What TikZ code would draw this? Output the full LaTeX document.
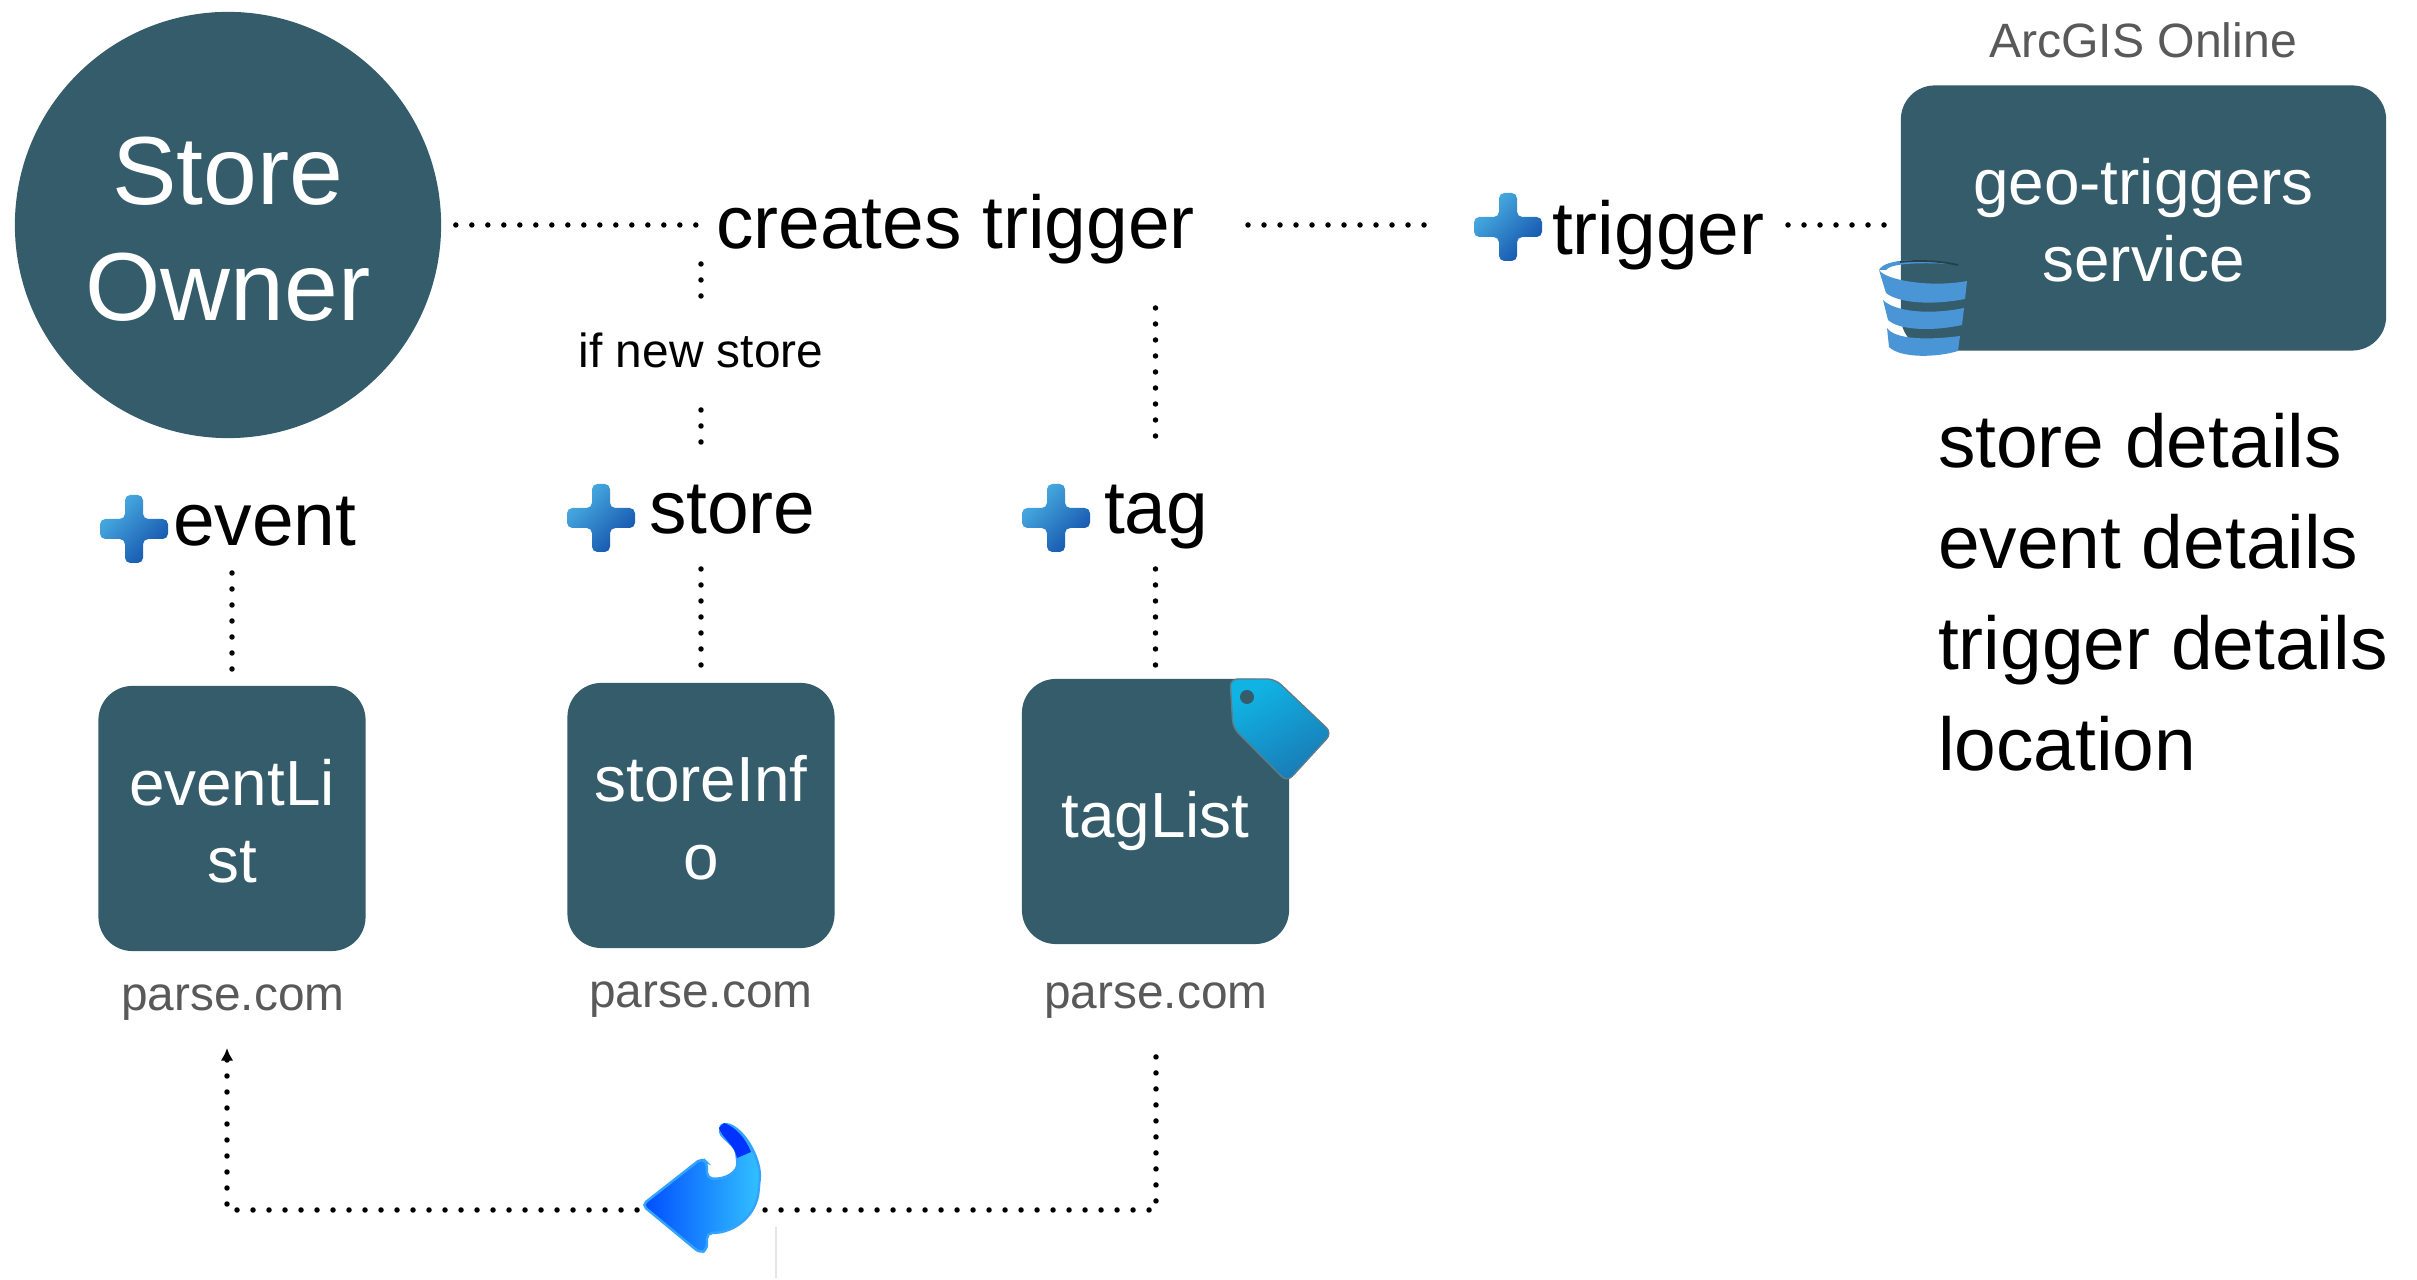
\documentclass[tikz,border=0pt]{standalone}
\usepackage{fontspec}
\setmainfont{Liberation Sans}
\usetikzlibrary{arrows.meta}
\definecolor{boxteal}{HTML}{345C6B}
\definecolor{sitegray}{HTML}{595959}
\definecolor{plustop}{HTML}{4AB0E2}
\definecolor{plusbottom}{HTML}{1452AC}
\definecolor{dbblue}{HTML}{4A95D6}
\definecolor{tagtop}{HTML}{10B4E4}
\definecolor{tagbottom}{HTML}{1A78B4}
\newcommand\labelnode[3]{node[#2] (#1) {#3}}
\tikzset{
    dotlink/.style={line width=1.56pt, line cap=round, dash pattern=on 0pt off 4.55pt},
    basetext/.style={inner sep=0pt, outer sep=0pt, anchor=base, font=\fontsize{21.3}{25}\selectfont},
    basewest/.style={basetext, anchor=base west},
    smalltext/.style={basetext, font=\fontsize{13.6}{17}\selectfont},
    sitetext/.style={basetext, text=sitegray, font=\fontsize{13.6}{16}\selectfont},
    servicebox/.style={fill=boxteal, text=white, rounded corners=.34cm, inner sep=0pt,
        minimum width=2.67cm, minimum height=2.65cm, align=center,
        font=\fontsize{18.15}{21.9}\selectfont},
    plusicon/.pic={
        \shade[top color=plustop, bottom color=plusbottom, shading angle=45,
            rounded corners=1.5pt]
            (-9,-34) -- (9,-34) -- (9,-10) -- (34,-10) -- (34,10) -- (9,10) -- (9,34)
            -- (-9,34) -- (-9,10) -- (-34,10) -- (-34,-10) -- (-9,-10) -- cycle;
    }
}
\begin{document}
\begin{tikzpicture}[x=.01cm, y=-.01cm]
    \useasboundingbox (0,0) rectangle (2417,1280);

    % Store owner circle
    \node[circle, fill=boxteal, text=white, minimum size=4.26cm, inner sep=0pt, align=center,
        font=\fontsize{27.5}{33}\selectfont] (owner) at (228,225) {\rule{0pt}{21.6pt}Store\\Owner};

    % Service boxes
    \node[servicebox, minimum width=4.85cm] (geotriggers) at (2143.5,218) {\rule{0pt}{14.6pt}geo-triggers\\service};
    \node[servicebox] (eventlist) at (232,818.5) {\rule{0pt}{14.8pt}eventLi\\st};
    \node[servicebox] (storeinfo) at (701,815.5) {\rule{0pt}{14.4pt}storeInf\\o};
    \node[servicebox, text height=.64cm, text depth=.13cm] (taglist) at (1155.5,811.5) {tagList};

    % Text labels
    \draw
        (716,249) \labelnode{creates}{basewest}{creates trigger}
        (1552,255) \labelnode{trigger}{basewest}{trigger}
        (173,546) \labelnode{event}{basewest}{event}
        (649,534) \labelnode{store}{basewest}{store}
        (1104,534) \labelnode{tag}{basewest}{tag}
        (701,368) \labelnode{ifnew}{smalltext}{if new store}
        (2143,58) \labelnode{arcgis}{basetext, text=sitegray, font=\fontsize{13.7}{17}\selectfont}{ArcGIS Online}
        (233,1011) \labelnode{eventsite}{sitetext}{parse.com}
        (701,1008) \labelnode{storesite}{sitetext}{parse.com}
        (1156,1009) \labelnode{tagsite}{sitetext}{parse.com}
        (1938,468) \labelnode{storedetails}{basewest}{store details}
        (1938,569) \labelnode{eventdetails}{basewest}{event details}
        (1938,670) \labelnode{triggerdetails}{basewest}{trigger details}
        (1938,771) \labelnode{location}{basewest}{location};

    % Dotted links
    \draw[dotlink, shorten <=.14cm, shorten >=.15cm] (owner.east) -- (owner.east -| creates.west);
    \draw[dotlink] (1248,225) -- (1435,225);
    \draw[dotlink, shorten >=.1cm] (1788,225) -- (geotriggers.west |- 1788,225);
    \draw[dotlink] (ifnew |- 0,264) -- (ifnew |- 0,300);
    \draw[dotlink] (ifnew |- 0,410) -- (ifnew |- 0,447);
    \draw[dotlink] (taglist |- 0,308) -- (taglist |- 0,440);
    \draw[dotlink, shorten >=.08cm] (eventlist |- 0,573) -- (eventlist.north);
    \draw[dotlink, shorten >=.06cm] (storeinfo |- 0,569) -- (storeinfo.north);
    \draw[dotlink] (taglist |- 0,569) -- (taglist.north);

    % Link back to the event list
    \draw[dotlink, -{Latex[length=3.6pt, width=3.6pt]}, shorten <=.38cm, shorten >=.28cm]
        (tagsite.south) |- (227,1210) -- (227,1020);
    \draw[gray!20, line width=.8pt] (776,1227) -- (776,1278);

    % Plus icons
    \path (1508,227) pic {plusicon};
    \path (134,529) pic {plusicon};
    \path (601,518) pic {plusicon};
    \path (1056,518) pic {plusicon};

    % Database icon
    \begin{scope}[fill=dbblue]
        \fill (1879,270) .. controls (1885,258) and (1925,258) .. (1950,264)
            .. controls (1915,262) and (1890,264) .. (1886,270) -- cycle;
        \fill (1879,270) .. controls (1885,280) and (1930,288) .. (1967,281)
            -- (1965,299) .. controls (1935,305) and (1900,304) .. (1886,293) -- cycle;
        \fill (1883,300) .. controls (1895,312) and (1930,315) .. (1964,308)
            -- (1962,325) .. controls (1935,331) and (1900,331) .. (1888,320) -- cycle;
        \fill (1887,328) .. controls (1895,340) and (1930,340) .. (1960,336)
            -- (1958,351) .. controls (1935,358) and (1900,358) .. (1889,347) -- cycle;
    \end{scope}
    \draw[boxteal!70!black, line width=.5pt] (1900,262) .. controls (1920,260) and (1940,261) .. (1958,265);

    % Tag icon
    \shade[top color=tagtop, bottom color=tagbottom, shading angle=30,
        draw=boxteal!80, line width=.4pt, rounded corners=2.2pt]
        (1230,679) -- (1275,679) -- (1332,733) -- (1287,782) -- (1233,728) -- cycle;
    \fill[boxteal] (1247,697) circle (7);

    % Return arrow icon
    \shade[left color=blue!70!cyan, right color=cyan!70!blue!80, draw=blue!45!cyan!80,
        line width=.7pt, rounded corners=1.5pt]
        (642,1205) -- (702,1158) -- (707,1163) -- (707,1178)
        .. controls (725,1180) and (738,1172) .. (737,1158)
        .. controls (735,1145) and (722,1138) .. (719,1128)
        -- (724,1123)
        .. controls (745,1130) and (762,1160) .. (759,1185)
        .. controls (757,1215) and (735,1233) .. (707,1233)
        -- (707,1250) -- (700,1253) -- cycle;
    \fill[blue!80!cyan] (719,1128) -- (724,1123)
        .. controls (735,1127) and (745,1137) .. (751,1152) -- (737,1158)
        .. controls (735,1145) and (722,1138) .. (719,1128) -- cycle;
\end{tikzpicture}
\end{document}
